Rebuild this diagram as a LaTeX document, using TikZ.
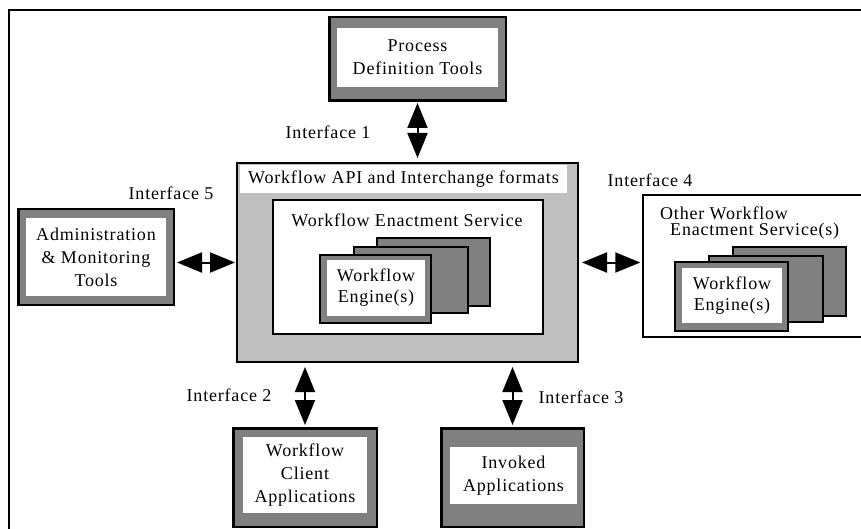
\documentclass[tikz,border=0pt]{standalone}
\usepackage{fontspec}
\setmainfont{Liberation Serif}[LetterSpace=4.5]
\usetikzlibrary{arrows.meta}
\definecolor{dgray}{RGB}{128,128,128}
\definecolor{lgray}{RGB}{192,192,192}
\begin{document}
\begin{tikzpicture}[x=1pt,y=-1pt,
  font=\fontsize{18}{23}\selectfont,
  outerbox/.style={draw=black, line width=2.5pt, fill=dgray, inner sep=0pt},
  innerbox/.style={fill=white, inner sep=0pt, align=center},
  card/.style={draw=black, line width=2pt, fill=dgray, inner sep=0pt},
  plainbox/.style={draw=black, line width=2pt, fill=white, inner sep=0pt},
  biarrow/.style={line width=2pt, {Triangle[length=25pt,width=20pt]}-{Triangle[length=25pt,width=20pt]}},
  lbl/.style={inner sep=0pt}]
\useasboundingbox (0,0) rectangle (861,529);
\fill[white] (0,0) rectangle (861,529);
% frame
\draw[line width=2.5pt] (9,540) -- (9,10) -- (870,10);

% Process Definition Tools
\node[outerbox, minimum width=176.5pt, minimum height=83.5pt] (proc) at (417.5,59) {};
\node[innerbox, minimum width=161pt, minimum height=59pt] (procT) at (417.5,57.5) {Process\\Definition Tools};

% Administration
\node[outerbox, minimum width=155.5pt, minimum height=95.5pt] (admin) at (96,257) {};
\node[innerbox, minimum width=140pt, minimum height=78pt] (adminT) at (96,257) {Administration\\\& Monitoring\\Tools};

% Client
\node[outerbox, minimum width=143.5pt, minimum height=98.5pt] (client) at (305,477.5) {};
\node[innerbox, minimum width=124pt, minimum height=76pt] (clientT) at (305,475) {Workflow\\Client\\Applications};

% Invoked
\node[outerbox, minimum width=142.5pt, minimum height=98.5pt] (invoked) at (512.5,477.5) {};
\node[innerbox, minimum width=127pt, minimum height=57pt] (invokedT) at (513.5,475.5) {Invoked\\Applications};

% API box
\node[draw=black, line width=2pt, fill=lgray, inner sep=0pt, minimum width=341pt, minimum height=199pt] (api) at (407.5,262.5) {};
\node[fill=white, inner sep=0pt, minimum width=327pt, minimum height=28pt] (apiT) at (403.5,179) {Workflow API and Interchange formats};

% Enactment service
\node[plainbox, minimum width=270pt, minimum height=134pt] (wes) at (408,267) {};
\node[lbl] (wesT) at (407,220) {Workflow Enactment Service};

% engines
\node[card, minimum width=113pt, minimum height=68pt] (eng3) at (433.5,272) {};
\node[card, minimum width=114pt, minimum height=66pt] (eng2) at (411,280) {};
\node[card, minimum width=111pt, minimum height=68pt] (eng1) at (375.5,289) {};
\node[innerbox, minimum width=98pt, minimum height=56pt, font=\fontsize{18}{21}\selectfont] (eng1T) at (376,288) {Workflow\\Engine(s)};

% Other enactment service
\node[draw=black, line width=1.5pt, fill=white, inner sep=0pt, minimum width=223pt, minimum height=142pt] (other) at (754.5,266) {};
\node[lbl, anchor=base west, align=left, font=\fontsize{18}{17}\selectfont] (otherT) at (660,236) {Other Workflow\\\hspace*{10pt}Enactment Service(s)};
\node[card, minimum width=113pt, minimum height=69pt] (oeng3) at (789.5,281.5) {};
\node[card, minimum width=114pt, minimum height=66pt] (oeng2) at (766,289) {};
\node[card, minimum width=113pt, minimum height=69pt] (oeng1) at (731.5,296.5) {};
\node[innerbox, minimum width=100pt, minimum height=55pt, font=\fontsize{18}{21}\selectfont] (oeng1T) at (732,295.5) {Workflow\\Engine(s)};

% labels
\node[lbl] (if1) at (328,132) {Interface 1};
\node[lbl] (if5) at (171,193) {Interface 5};
\node[lbl] (if4) at (650,180) {Interface 4};
\node[lbl] (if2) at (229,395) {Interface 2};
\node[lbl] (if3) at (581,397) {Interface 3};

% arrows
\draw[biarrow, shorten <=1pt, shorten >=4pt] (proc.south) -- (proc.south |- api.north);
\draw[biarrow, shorten <=2pt, shorten >=1pt] (admin.east |- api.west) -- (api.west);
\draw[biarrow, shorten <=3pt, shorten >=2pt] (api.east) -- (api.east -| other.west);
\draw[biarrow, shorten <=4pt, shorten >=2pt] (client.north |- api.south) -- (client.north);
\draw[biarrow, shorten <=4pt, shorten >=2pt] (invoked.north |- api.south) -- (invoked.north);
\end{tikzpicture}
\end{document}
